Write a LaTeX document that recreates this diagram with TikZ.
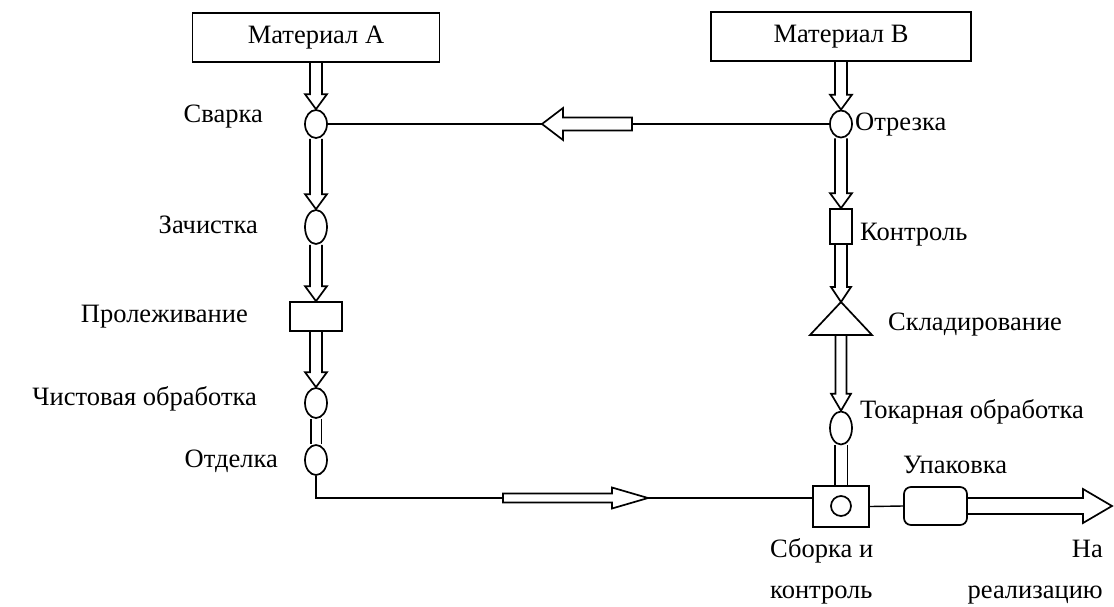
\documentclass[tikz,border=0pt]{standalone}
\usepackage{fontspec}
\setmainfont{Liberation Serif}
\usetikzlibrary{shapes.geometric,calc}
\pgfdeclarelayer{bg}
\pgfsetlayers{bg,main}

% hollow block arrow between two points:
% [closing] {from}{to}{shaft half width}{head half width}{head length}
\newcommand\blockarrow[6][]{%
  \coordinate (ba-b) at ($(#3)!#6!(#2)$);
  \draw[flow] ($(#2)!#4!90:(#3)$) -- ($(ba-b)!#4!90:(#3)$)
    -- ($(ba-b)!#5!90:(#3)$) -- (#3) -- ($(ba-b)!#5!-90:(#3)$)
    -- ($(ba-b)!#4!-90:(#3)$) -- ($(#2)!#4!-90:(#3)$) #1;
}

\tikzset{
  every node/.style={font=\fontsize{26.5}{32}\selectfont},
  shapeline/.style={draw, line width=1.7pt, fill=white, inner sep=0pt},
  op/.style={shapeline, ellipse, minimum width=22pt, minimum height=30pt},
  box/.style={shapeline, rectangle},
  lbl/.style={inner sep=0pt},
  flow/.style={line width=1.7pt, line join=miter},
  link/.style={line width=1.4pt},
  pipe/.style={line width=1.7pt, double, double distance=#1},
  pipe/.default=9pt,
}

\begin{document}
\begin{tikzpicture}[x=1pt,y=-1pt]
\useasboundingbox (0,0) rectangle (1114,606);

% --- line of material A ---
\node[box, minimum width=247pt, minimum height=49pt] (matA) at (316,37.5) {Материал А};
\node[op, minimum height=28pt] (svarka) at (316,124) {};
\node[op, minimum height=34pt] (zach) at (316,227) {};
\node[box, minimum width=52pt, minimum height=29pt] (prol) at (316,316.5) {};
\node[op] (chist) at (316,403) {};
\node[op] (otd) at (316,460) {};

% --- line of material B ---
\node[box, minimum width=260pt, minimum height=49pt] (matB) at (841,36.5) {Материал B};
\node[op, minimum height=27pt] (otrezka) at (841,124) {};
\node[box, minimum width=22pt, minimum height=35pt] (kontr) at (841,226.5) {};
\draw[flow, fill=white] (841,302) coordinate (sklTop) -- (872,335) -- (810,335) -- cycle;
\coordinate (sklBot) at (841,335);
\node[op, minimum height=33pt] (tok) at (841,428) {};

% --- assembly and packing ---
\node[box, minimum width=56pt, minimum height=41pt] (sbor) at (841,506.5) {};
\node[shapeline, circle, minimum size=20pt] (sborc) at (841,506) {};
\node[box, rounded corners=7pt, minimum width=63pt, minimum height=38pt] (upak) at (935.5,506) {};

% free ends of the transfer arrows
\coordinate (ltip) at (542,124);
\coordinate (ltail) at (632,124);
\coordinate (btail) at (503,498);
\coordinate (btip) at (648,498);
\coordinate (out) at (1112,506);

\begin{pgfonlayer}{bg}
  \blockarrow{matA.south}{svarka.north}{6pt}{11pt}{15pt}
  \blockarrow{svarka.south}{zach.north}{6pt}{11pt}{15pt}
  \blockarrow{zach.south}{prol.north}{6pt}{11pt}{15pt}
  \blockarrow{prol.south}{chist.north}{6pt}{11pt}{15pt}
  \draw[pipe] (chist.south) -- (otd.north);

  \blockarrow{matB.south}{otrezka.north}{6pt}{11pt}{15pt}
  \blockarrow{otrezka.south}{kontr.north}{6pt}{11pt}{15pt}
  \blockarrow{kontr.south}{sklTop}{6pt}{10pt}{15pt}
  \blockarrow{sklBot}{tok.north}{5.5pt}{10pt}{17pt}
  \draw[pipe=11pt] (tok.south) -- (sbor.north);

  \draw[link] (svarka.east) -- (ltip);
  \blockarrow[-- cycle]{ltail}{ltip}{6.5pt}{16pt}{21pt}
  \draw[link] (otrezka.west) -- (ltail);

  \draw[link] (otd.south) |- (btail);
  \blockarrow[-- cycle]{btail}{btip}{4.5pt}{10.5pt}{36pt}
  \draw[link] (btip) -- (btip -| sbor.west);

  \draw[link] (sbor.east) -- (upak.west);
  \blockarrow{upak.east}{out}{8pt}{17pt}{29pt}
\end{pgfonlayer}

% --- labels ---
\node[lbl, anchor=base east] (tSvarka) at (263,122) {Сварка};
\node[lbl, anchor=base east] (tZach) at (258,233) {Зачистка};
\node[lbl, anchor=base east] (tProl) at (248,322) {Пролеживание};
\node[lbl, anchor=base east] (tChist) at (257,405) {Чистовая обработка};
\node[lbl, anchor=base east] (tOtd) at (278,467) {Отделка};
\node[lbl, anchor=base west] (tOtrezka) at (855,130) {Отрезка};
\node[lbl, anchor=base west] (tKontr) at (860,240) {Контроль};
\node[lbl, anchor=base west] (tSkl) at (888,330) {Складирование};
\node[lbl, anchor=base west] (tTok) at (860,418) {Токарная обработка};
\node[lbl, anchor=base west] (tUpak) at (903,473) {Упаковка};
\node[lbl, anchor=base west] (tSbor1) at (770,557) {Сборка и};
\node[lbl, anchor=base west] (tSbor2) at (770,598) {контроль};
\node[lbl, anchor=base east] (tNa1) at (1103,557) {На};
\node[lbl, anchor=base east] (tNa2) at (1103,598) {реализацию};
\end{tikzpicture}
\end{document}
